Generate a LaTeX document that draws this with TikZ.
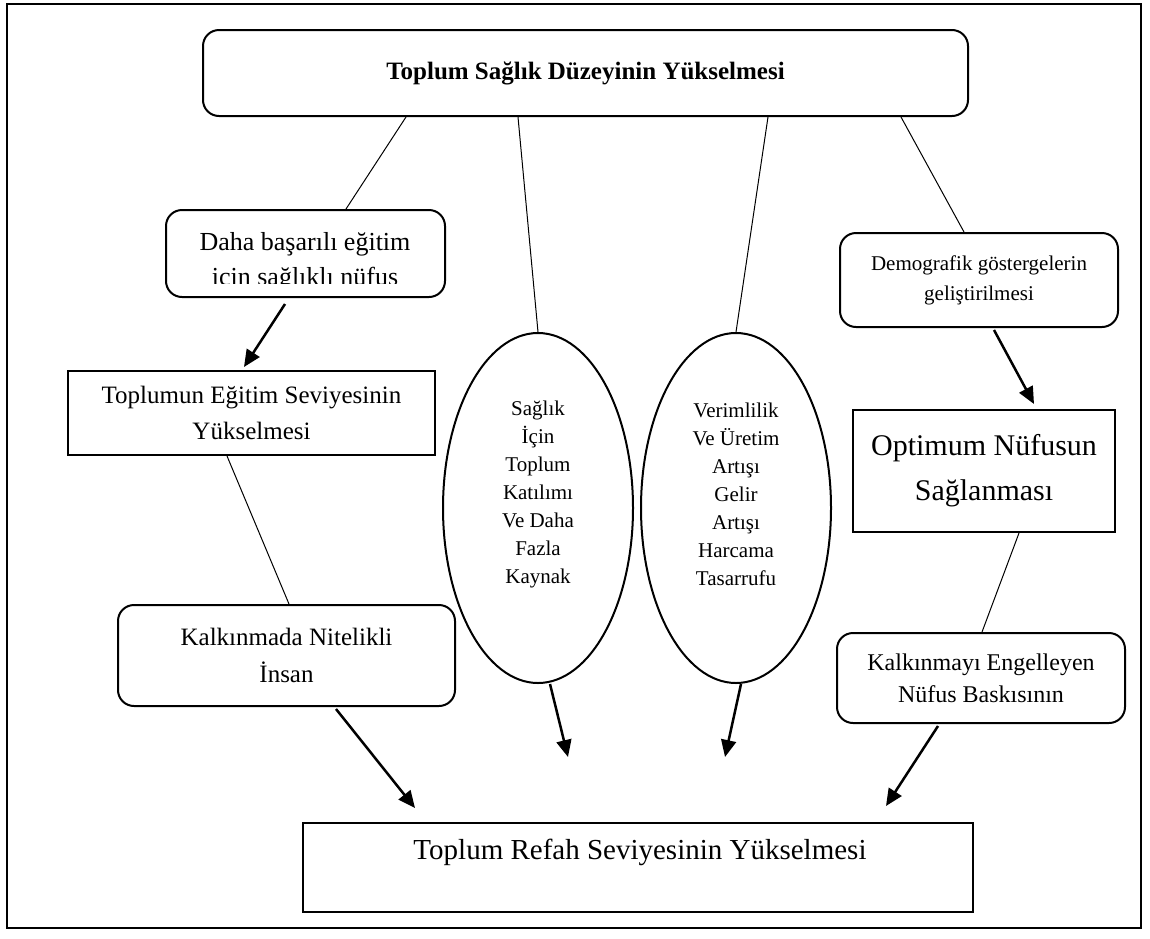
\documentclass[tikz,border=0pt]{standalone}
\usepackage{fontspec}
\setmainfont{Liberation Serif}
\usetikzlibrary{arrows.meta,shapes.geometric}
\begin{document}
\begin{tikzpicture}[x=1pt,y=-1pt]
\tikzset{boite/.style={draw, line width=2pt, align=center, inner sep=0pt},
arrondi/.style={boite, rounded corners=16pt},
ovale/.style={draw, ellipse, line width=2pt, minimum width=190pt, minimum height=350pt, inner sep=0pt},
texteovale/.style={align=center, font=\fontsize{21}{28}\selectfont},
trait/.style={line width=1pt},
fleche/.style={line width=2.5pt, -{Triangle[length=17pt,width=15pt]}}}
\useasboundingbox (0,0) rectangle (1150,938);
\draw[line width=2pt] (7,4) rectangle (1141,928);
\node[arrondi, minimum width=765pt, minimum height=86pt, font=\bfseries\fontsize{25}{30}\selectfont] (T) at (585.5,73) {Toplum Sağlık Düzeyinin Yükselmesi};
\node[arrondi, minimum width=279pt, minimum height=87pt] (D) at (305.5,253.5) {};
\begin{scope}
\clip (166,212) rectangle (445,283);
\node[align=center, font=\fontsize{26}{35}\selectfont] (Dt) at (305,262) {Daha başarılı eğitim\\için sağlıklı nüfus};
\end{scope}
\node[arrondi, minimum width=278pt, minimum height=94pt, font=\fontsize{21}{30}\selectfont] (M) at (979,280) {Demografik göstergelerin\\geliştirilmesi};
\node[boite, minimum width=367pt, minimum height=84pt, font=\fontsize{25}{36}\selectfont] (E) at (251.5,413) {Toplumun Eğitim Seviyesinin\\Yükselmesi};
\node[boite, minimum width=262pt, minimum height=122pt, font=\fontsize{30}{45}\selectfont] (O) at (984,471) {Optimum Nüfusun\\Sağlanması};
\node[arrondi, minimum width=337pt, minimum height=101pt, font=\fontsize{25}{37}\selectfont] (K) at (286.5,655.5) {Kalkınmada Nitelikli\\İnsan};
\node[arrondi, minimum width=288pt, minimum height=90pt, font=\fontsize{24}{32}\selectfont] (P) at (981,678) {Kalkınmayı Engelleyen\\Nüfus Baskısının};
\node[ovale] (G) at (538,508) {};
\node[texteovale] (Gt) at (538,494) {Sağlık\\İçin\\Toplum\\Katılımı\\Ve Daha\\Fazla\\Kaynak};
\node[ovale] (H) at (736,508) {};
\node[texteovale] (Ht) at (736,494) {Verimlilik\\Ve Üretim\\Artışı\\Gelir\\Artışı\\Harcama\\Tasarrufu};
\node[boite, minimum width=670pt, minimum height=89pt] (R) at (638,867.5) {};
\node[font=\fontsize{29}{35}\selectfont] (Rt) at (640,852) {Toplum Refah Seviyesinin Yükselmesi};
\coordinate (a1) at (415,808);
\coordinate (a2) at (568,757);
\coordinate (a3) at (725,757);
\coordinate (a4) at (886,806);
\draw[trait] ([xshift=204pt]T.south west) -- ([xshift=181pt]D.north west);
\draw[trait] ([xshift=316pt]T.south west) -- (G.north);
\draw[trait] ([xshift=566pt]T.south west) -- (H.north);
\draw[trait] ([xshift=699pt]T.south west) -- ([xshift=125pt]M.north west);
\draw[fleche] ([xshift=120pt,yshift=-6pt]D.south west) -- ([xshift=177pt,yshift=3pt]E.north west);
\draw[fleche] ([xshift=155pt,yshift=-2pt]M.south west) -- ([xshift=182pt,yshift=5pt]O.north west);
\draw[trait] ([xshift=160pt]E.south west) -- ([xshift=172pt]K.north west);
\draw[trait] ([xshift=167pt]O.south west) -- ([xshift=146pt]P.north west);
\draw[fleche] ([xshift=219pt,yshift=-2pt]K.south west) -- (a1);
\draw[fleche] ([xshift=12pt]G.south) -- (a2);
\draw[fleche] ([xshift=5pt]H.south) -- (a3);
\draw[fleche] ([xshift=102pt,yshift=-2pt]P.south west) -- (a4);
\end{tikzpicture}
\end{document}
